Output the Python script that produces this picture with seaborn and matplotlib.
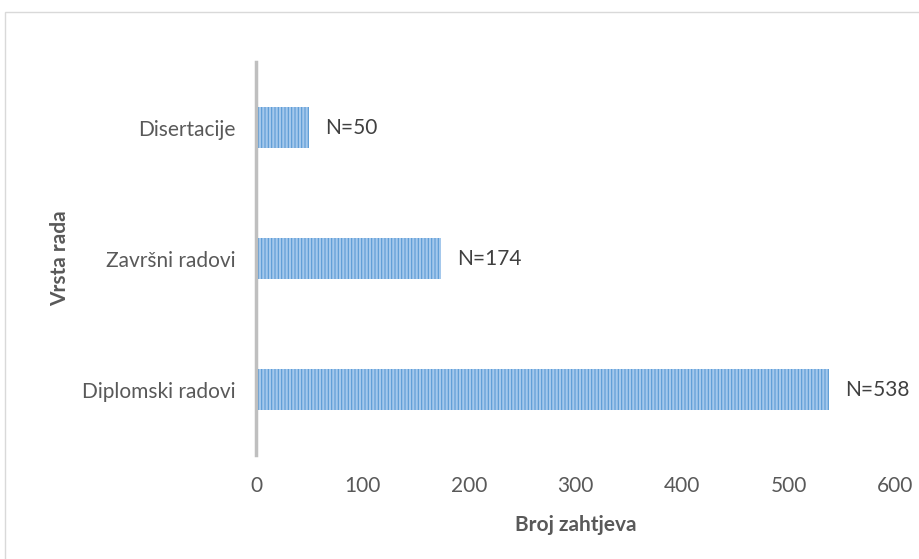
import matplotlib
matplotlib.use("Agg")
import matplotlib.pyplot as plt
import seaborn as sns
import pandas as pd
from matplotlib.patches import Rectangle

categories = ["Disertacije", "Završni radovi", "Diplomski radovi"]
values = [50, 174, 538]
labels = ["N=50", "N=174", "N=538"]
x_ticks = [0, 100, 200, 300, 400, 500, 600]

sns.set_theme(style="white")
plt.rcParams["font.family"] = ["Lato", "DejaVu Sans"]
plt.rcParams["hatch.color"] = "#5b9bd5"
plt.rcParams["hatch.linewidth"] = 0.8

df = pd.DataFrame({"kategorija": categories, "broj": values})

fig = plt.figure(figsize=(9.19, 5.59), dpi=100)
ax = fig.add_axes([256 / 919, 1 - 455 / 559, (895 - 256) / 919, (455 - 62) / 559])

sns.barplot(data=df, x="broj", y="kategorija", orient="h", ax=ax,
            color="#a4c8ec", width=0.31, saturation=1,
            edgecolor="#5b9bd5", linewidth=0, hatch="|||||")

for i, (v, lab) in enumerate(zip(values, labels)):
    ax.text(v + 15, i, lab, va="center", ha="left", fontsize=15, color="#404040")

ax.set_xlim(0, 600)
ax.set_ylim(2.5, -0.5)
ax.set_xticks(x_ticks)
ax.set_xticklabels([str(t) for t in x_ticks], fontsize=15, color="#595959")
ax.tick_params(axis="y", labelsize=15, labelcolor="#595959", length=0, pad=15)
ax.tick_params(axis="x", length=0, pad=15)
ax.set_xlabel("Broj zahtjeva", fontsize=15, fontweight="bold", color="#595959", labelpad=14)
ax.set_ylabel("Vrsta rada", fontsize=15, fontweight="bold", color="#595959", labelpad=8)

for s in ["top", "right", "bottom"]:
    ax.spines[s].set_visible(False)
ax.spines["left"].set_color("#bfbfbf")
ax.spines["left"].set_linewidth(2.5)

fig.patches.append(Rectangle((5 / 919, -0.05), 1.0, 1 - 12 / 559 + 0.05,
                             transform=fig.transFigure, fill=False,
                             edgecolor="#d9d9d9", linewidth=1))

fig.savefig("out.png", dpi=100)
